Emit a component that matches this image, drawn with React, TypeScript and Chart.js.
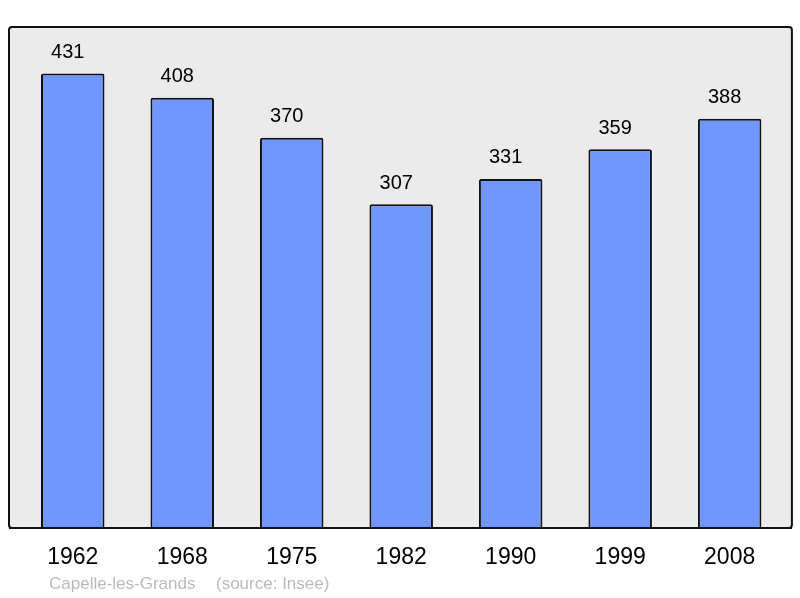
import React, { useEffect, useRef } from 'react';
import { Chart, ChartConfiguration, Plugin, registerables } from 'chart.js';

Chart.register(...registerables);

const years = ['1962', '1968', '1975', '1982', '1990', '1999', '2008'];
const population = [431, 408, 370, 307, 331, 359, 388];
const footerName = 'Capelle-les-Grands';
const footerSource = '(source: Insee)';

const FONT = '"Liberation Sans", Arial, sans-serif';

// gray rounded frame behind the bars, a bit wider than the chart area
const framePlugin: Plugin<'bar'> = {
  id: 'frame',
  beforeDatasetsDraw(chart) {
    const { ctx, chartArea } = chart;
    const left = chartArea.left - 9;
    const right = chartArea.right + 7.5;
    const top = chartArea.top;
    const bottom = chartArea.bottom;
    ctx.save();
    ctx.beginPath();
    ctx.roundRect(left, top, right - left, bottom - top, 3);
    ctx.fillStyle = '#ebebeb';
    ctx.fill();
    ctx.lineWidth = 2;
    ctx.strokeStyle = '#111111';
    ctx.stroke();
    ctx.restore();
  },
};

const labelsPlugin: Plugin<'bar'> = {
  id: 'labels',
  afterDatasetsDraw(chart) {
    const { ctx, chartArea } = chart;
    const x = chart.scales.x;
    const y = chart.scales.y;
    ctx.save();
    ctx.textAlign = 'center';
    ctx.textBaseline = 'middle';
    ctx.fillStyle = '#000000';
    population.forEach((v, i) => {
      const px = x.getPixelForValue(i);
      ctx.font = `20px ${FONT}`;
      ctx.fillText(String(v), px - 5, y.getPixelForValue(v) - 21);
      ctx.font = `23px ${FONT}`;
      ctx.fillText(years[i], px, chartArea.bottom + 30);
    });
    // redraw bottom border over bar outlines
    ctx.beginPath();
    ctx.moveTo(chartArea.left - 9, chartArea.bottom);
    ctx.lineTo(chartArea.right + 7.5, chartArea.bottom);
    ctx.lineWidth = 2;
    ctx.strokeStyle = '#111111';
    ctx.stroke();
    ctx.font = `17px ${FONT}`;
    ctx.fillStyle = '#bbbbbb';
    ctx.textAlign = 'left';
    ctx.fillText(footerName, 49, chartArea.bottom + 56);
    ctx.fillText(footerSource, 216, chartArea.bottom + 56);
    ctx.restore();
  },
};

export default function App() {
  const chartRef = useRef<HTMLCanvasElement>(null);
  const chartInstance = useRef<Chart | null>(null);

  useEffect(() => {
    document.body.style.margin = '0';
    if (!chartRef.current) return;
    const ctx = chartRef.current.getContext('2d');
    if (!ctx) return;

    const config: ChartConfiguration<'bar'> = {
      type: 'bar',
      data: {
        labels: years,
        datasets: [
          {
            data: population,
            backgroundColor: '#7096ff',
            borderColor: '#111111',
            borderWidth: 2,
            borderRadius: 2,
            borderSkipped: 'bottom',
            barPercentage: 0.58,
            categoryPercentage: 1,
          },
        ],
      },
      options: {
        responsive: true,
        maintainAspectRatio: false,
        animation: false,
        layout: {
          padding: { left: 18, right: 15.6, top: 27, bottom: 70 },
        },
        plugins: {
          legend: { display: false },
          tooltip: { enabled: false },
        },
        scales: {
          x: { display: false },
          y: { display: false, min: 0, max: 475 },
        },
      },
      plugins: [framePlugin, labelsPlugin],
    };

    chartInstance.current = new Chart(ctx, config);

    return () => {
      if (chartInstance.current) {
        chartInstance.current.destroy();
      }
    };
  }, []);

  return (
    <div style={{ width: 800, height: 598, position: 'relative', background: '#ffffff' }}>
      <canvas ref={chartRef}></canvas>
    </div>
  );
}
